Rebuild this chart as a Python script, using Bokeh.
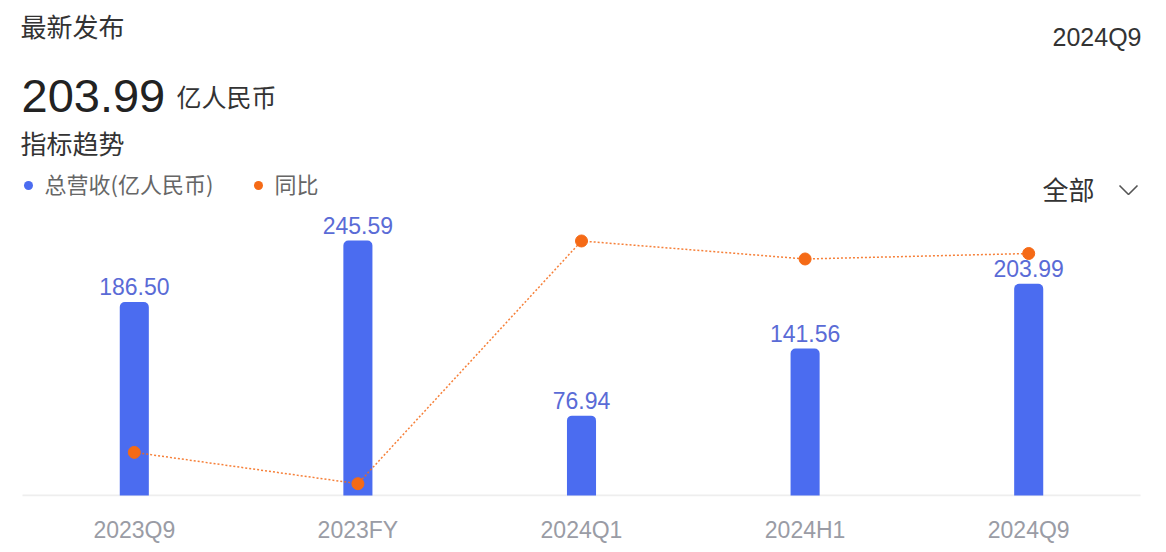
from bokeh.plotting import figure
from bokeh.models import Range1d, FixedTicker, Label, ColumnDataSource
from bokeh.core.properties import value
from bokeh.embed import file_html
from bokeh.resources import INLINE

# ---- data ----
categories = ["2023Q9", "2023FY", "2024Q1", "2024H1", "2024Q9"]
revenue = [186.50, 245.59, 76.94, 141.56, 203.99]
yoy = [-16.0, -20.0, 11.0, 8.7, 9.4]
revenue_labels = ["186.50", "245.59", "76.94", "141.56", "203.99"]
series_names = ["总营收(亿人民币)", "同比"]
latest_value = "203.99"
latest_unit = "亿人民币"
latest_period = "2024Q9"
header_title = "最新发布"
trend_title = "指标趋势"
filter_text = "全部"

BAR_COLOR = "#4b6cf0"
LABEL_BLUE = "#5a6bd6"
ORANGE = "#f56a16"
CJK = "Noto Sans CJK SC"
LAT = "Liberation Sans"

W, H = 1150, 548
OFF = 0  # page offset of the canvas
X_START = -(133.8 - OFF) / 223.6
X_END = X_START + W / 223.6
Y_START = -(496 - 495) / 1.038
Y_END = (495 - OFF) / 1.038
YOY_START = 9.4 - (496 - 253) / 7.83
YOY_END = 9.4 + (253 - OFF) / 7.83


def px2x(px):
    return X_START + (px - OFF) / W * (X_END - X_START)


def py2y(py):
    return (495 - py) / 1.038


xs = list(range(len(categories)))
src = ColumnDataSource(dict(x=xs, rev=revenue, yoy=yoy, lab=revenue_labels))

p = figure(width=W, height=H, output_backend="svg", toolbar_location=None,
           x_range=Range1d(X_START, X_END), y_range=Range1d(Y_START, Y_END),
           min_border_left=0, min_border_right=0, min_border_top=0,
           min_border_bottom=H - (496 - OFF), tools="")
p.extra_y_ranges = {"yoy": Range1d(YOY_START, YOY_END)}
p.outline_line_color = None
p.xgrid.visible = False
p.ygrid.visible = False
p.yaxis.visible = False
p.background_fill_color = "white"
p.border_fill_color = "white"

ax = p.xaxis[0]
ax.ticker = FixedTicker(ticks=xs)
ax.major_label_overrides = {i: c for i, c in enumerate(categories)}
ax.axis_line_color = None
ax.major_tick_line_color = None
ax.minor_tick_line_color = None
ax.major_tick_out = 0
ax.major_tick_in = 0
ax.major_label_standoff = 20
ax.major_label_text_font = LAT
ax.major_label_text_font_size = "23px"
ax.major_label_text_color = "#9a9ca5"

# baseline
p.segment(x0=[-0.5], x1=[len(categories) - 0.5], y0=[0], y1=[0],
          line_color="#eeeeee", line_width=2)

p.vbar(x="x", top="rev", bottom=0, width=0.13, source=src,
       fill_color=BAR_COLOR, line_color=None, border_radius=(5, 5, 0, 0))

p.text(x="x", y="rev", text="lab", source=src, text_align="center",
       text_baseline="bottom", y_offset=-7, text_font=value(LAT),
       text_font_size="23px", text_color=LABEL_BLUE)

p.line(x="x", y="yoy", source=src, y_range_name="yoy", line_color=ORANGE,
       line_width=1.5, line_dash="2 2", line_alpha=0.85)
p.scatter(x="x", y="yoy", source=src, y_range_name="yoy", size=12,
          fill_color=ORANGE, line_color=ORANGE)


# ---- header texts ----
def lab(text, px, py, size, color, font=CJK, align="left", baseline="middle"):
    p.add_layout(Label(x=px2x(px), y=py2y(py), text=text, text_font=font,
                       text_font_size=size, text_color=color, text_align=align,
                       text_baseline=baseline))


lab(header_title, 20, 25, "26px", "#333333")
lab(latest_value, 21, 95, "47px", "#222222", font=LAT, baseline="alphabetic")
lab(latest_unit, 176, 95, "25px", "#333333", baseline="alphabetic")
lab(trend_title, 20, 142, "26px", "#333333")
lab(latest_period, 1141, 36, "25px", "#333333", font=LAT, align="right")
lab(filter_text, 1042, 188, "26px", "#333333")

# chevron icon next to the filter
p.line(x=[px2x(1119), px2x(1128), px2x(1137)],
       y=[py2y(185), py2y(194), py2y(185)], line_color="#555555", line_width=1.6)

# legend
p.scatter(x=[px2x(28), px2x(258)], y=[py2y(185), py2y(185)], size=9,
          fill_color=[BAR_COLOR, ORANGE], line_color=None)
lab(series_names[0], 44, 182, "22px", "#666666")
lab(series_names[1], 274, 182, "22px", "#666666")

open("out.html", "w").write(file_html(p, INLINE))
